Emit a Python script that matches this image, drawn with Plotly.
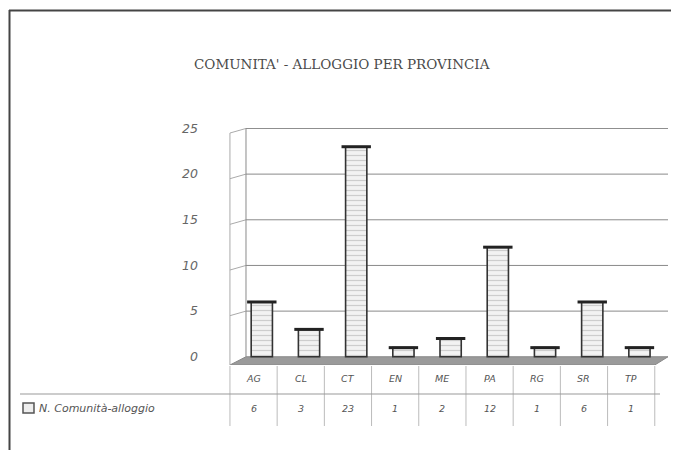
import plotly.graph_objects as go

title = "COMUNITA' - ALLOGGIO PER PROVINCIA"
categories = ["AG", "CL", "CT", "EN", "ME", "PA", "RG", "SR", "TP"]
values = [6, 3, 23, 1, 2, 12, 1, 6, 1]
series_name = "N. Comunità-alloggio"
y_ticks = [0, 5, 10, 15, 20, 25]

# page body has an 8px margin: build figure in screen coordinates minus 8
OFF = 8
W, H = 679 - OFF, 450 - OFF
L, R, T, B = 229 - OFF, 11, 128 - OFF, 85
PH = H - T - B
PW = W - L - R


def py(sy):  # screen pixel row -> paper y
    return (H - B - (sy - OFF)) / PH


def pxx(sx):  # screen pixel column -> paper x
    return ((sx - OFF) - L) / PW


GRID = "#8a8a8a"
TXT = "#555555"
n = len(categories)
x_lo, x_hi = -0.52, n - 0.5 + 0.28
back = -0.16
y_lo = -0.9
bar_w, bar_off = 0.45, -0.05
shift = bar_off + bar_w / 2

fig = go.Figure()
fig.add_trace(go.Bar(
    x=categories, y=values, name=series_name,
    width=bar_w, offset=bar_off,
    marker=dict(color="#eeeeee",
                line=dict(color="#333333", width=1.6),
                pattern=dict(shape="-", fgcolor="#a8a8a8", bgcolor="#f2f2f2",
                             size=5, solidity=0.25)),
    showlegend=False,
))
# dark cap on top of each bar (on an overlaid, shifted category axis)
fig.add_trace(go.Scatter(
    x=categories, y=values, mode="markers", showlegend=False, hoverinfo="skip",
    xaxis="x2", yaxis="y",
    marker=dict(symbol="line-ew-open", size=21, color="#222222",
                line=dict(color="#222222", width=3)),
))

shapes = []
# floor
shapes.append(dict(type="path", xref="x", yref="y", layer="below",
                   path=f"M {x_lo+0.02},{y_lo} L {n-0.5},{y_lo} L {x_hi},0 L {back},0 Z",
                   fillcolor="#9a9a9a", line=dict(color="#888888", width=1)))
# back wall gridlines + side wall diagonals
for v in y_ticks:
    if v > 0:
        shapes.append(dict(type="line", xref="x", yref="y", layer="below",
                           x0=back, x1=x_hi, y0=v, y1=v,
                           line=dict(color=GRID, width=1)))
        shapes.append(dict(type="line", xref="x", yref="y", layer="below",
                           x0=-0.5, x1=back, y0=v - 0.5, y1=v,
                           line=dict(color="#aaaaaa", width=1)))
shapes.append(dict(type="line", xref="x", yref="y", layer="below",
                   x0=back, x1=back, y0=0, y1=25, line=dict(color=GRID, width=1)))
shapes.append(dict(type="line", xref="x", yref="y", layer="below",
                   x0=-0.5, x1=-0.5, y0=y_lo, y1=24.5, line=dict(color="#aaaaaa", width=1)))
# table lines
for i in range(n + 1):
    shapes.append(dict(type="line", xref="x", yref="paper",
                       x0=i - 0.5, x1=i - 0.5, y0=py(366), y1=py(426),
                       line=dict(color="#bbbbbb", width=1)))
shapes.append(dict(type="line", xref="paper", yref="paper",
                   x0=pxx(20), x1=pxx(660), y0=py(394), y1=py(394),
                   line=dict(color="#999999", width=1)))
# legend key square
shapes.append(dict(type="rect", xref="paper", yref="paper",
                   x0=pxx(23), x1=pxx(34), y0=py(403), y1=py(413),
                   fillcolor="#eeeeee", line=dict(color="#555555", width=1.5)))
# outer frame (top and left)
shapes.append(dict(type="line", xref="paper", yref="paper",
                   x0=pxx(9), x1=pxx(690), y0=py(10.5), y1=py(10.5),
                   line=dict(color="#444444", width=2)))
shapes.append(dict(type="line", xref="paper", yref="paper",
                   x0=pxx(9.5), x1=pxx(9.5), y0=py(10), y1=py(460),
                   line=dict(color="#444444", width=2)))

tfont = dict(family="DejaVu Sans", size=9.5, color=TXT, style="italic")
annotations = []
for c, v in zip(categories, values):
    annotations.append(dict(x=c, y=py(378), xref="x", yref="paper", text=c,
                            showarrow=False, yanchor="middle", font=tfont))
    annotations.append(dict(x=c, y=py(408), xref="x", yref="paper", text=str(v),
                            showarrow=False, yanchor="middle", font=tfont))
annotations.append(dict(x=pxx(37), y=py(408), xref="paper", yref="paper", text=series_name,
                        showarrow=False, xanchor="left", yanchor="middle",
                        font=dict(family="DejaVu Sans", size=11, color=TXT, style="italic")))
annotations.append(dict(x=pxx(342), y=py(64), xref="paper", yref="paper", text=title,
                        showarrow=False, xanchor="center", yanchor="middle",
                        font=dict(family="DejaVu Serif", size=13.5, color="#4a4a4a")))

fig.update_layout(
    width=W, height=H,
    margin=dict(l=L, r=R, t=T, b=B, pad=0),
    paper_bgcolor="white", plot_bgcolor="rgba(0,0,0,0)",
    shapes=shapes, annotations=annotations,
    showlegend=False,
    xaxis=dict(type="category", range=[x_lo, x_hi], showticklabels=False,
               showgrid=False, zeroline=False, showline=False, ticks=""),
    xaxis2=dict(type="category", overlaying="x", range=[x_lo - shift, x_hi - shift],
                categoryarray=categories, categoryorder="array",
                showticklabels=False, showgrid=False, zeroline=False,
                showline=False, ticks=""),
    yaxis=dict(range=[y_lo, 25.05], tickvals=y_ticks, showgrid=False, zeroline=False,
               showline=False, ticks="", ticklabelstandoff=30,
               tickfont=dict(family="DejaVu Sans", size=12.5, color="#666666", style="italic")),
)

fig.write_html("out.html")
